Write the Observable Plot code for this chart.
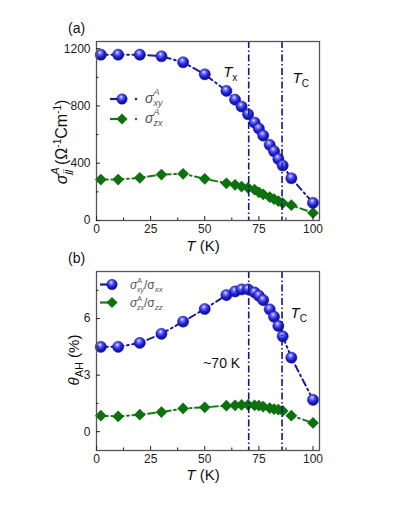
<!DOCTYPE html>
<html><head><meta charset="utf-8">
<script src="https://cdn.jsdelivr.net/npm/d3@7"></script>
<script src="https://cdn.jsdelivr.net/npm/@observablehq/plot@0.6"></script>
<style>
body{margin:0;background:#fff;}
#wrap{position:relative;width:396px;height:506px;font-family:"Liberation Sans",Arial,sans-serif;}
#wrap svg{position:absolute;left:0;overflow:visible}
</style></head><body><div id="wrap"></div>
<script>
// Temperatures (K)
const temps = [2,10,20,30,40,50,60,64,67,70,73,75,77,80,82,84,86,90,100];
// (a) anomalous Hall conductivity (Ω^-1 cm^-1)
const sigmaXY = [1158,1158,1158,1147,1105,1021,905,844,796,742,684,642,593,528,484,430,384,295,123];
const sigmaZX = [286,286,298,321,326,291,260,249,237,228,215,197,183,164,150,136,122,107,53];
// (b) anomalous Hall angle (%)
const thetaXY = [4.50,4.50,4.71,5.19,5.84,6.51,7.25,7.44,7.55,7.55,7.39,7.21,6.98,6.49,6.10,5.61,5.06,3.93,1.69];
const thetaZX = [0.85,0.81,0.90,1.04,1.23,1.29,1.38,1.40,1.42,1.42,1.40,1.38,1.33,1.25,1.20,1.17,1.10,0.85,0.46];
// transition temperatures
const Tx = 70.3, Tc = 85.7;
const xTicks = [0,25,50,75,100], xMinor = [12.5,37.5,62.5,87.5];
const yTicksA = [0,400,800,1200], yMinorA = [200,600,1000];
const yTicksB = [0,3,6], yMinorB = [1.5,4.5,7.5];

const BLUE_LINE = "#1a1a9c", GREEN = "#0d720d", GREEN_LINE = "#157a15", RULE = "#14148a";
const FONT = "'Liberation Sans', Arial, sans-serif";
const dash = "7,3.5,1.8,3.5";

function rows(ys){ return temps.map((t,i)=>({T:t, v:ys[i]})); }

function panel({ya, yb, yDomain, yTicks, yMinor, height, mt, mb, top}){
  const p = Plot.plot({
    width: 396, height, marginLeft: 96, marginRight: 77, marginTop: mt, marginBottom: mb,
    style: {fontFamily: FONT, fontSize: "12px", color: "#222", background: "transparent", overflow: "visible"},
    x: {domain: [0, 103]},
    y: {domain: yDomain},
    marks: [
      Plot.line(rows(ya), {x:"T", y:"v", stroke: BLUE_LINE, strokeWidth: 2, strokeDasharray: dash}),
      Plot.line(rows(yb), {x:"T", y:"v", stroke: GREEN_LINE, strokeWidth: 2, strokeDasharray: dash}),
      Plot.dot(rows(yb), {x:"T", y:"v", symbol:"diamond2", r:5.3, fill: GREEN, stroke:"none"}),
      Plot.dot(rows(ya), {x:"T", y:"v", r:5.6, fill:"url(#ballGrad)", stroke:"#10108a", strokeWidth:0.5}),
      Plot.ruleX([Tx, Tc], {stroke: RULE, strokeWidth: 1.6, strokeDasharray: "7,2.5,1.5,2.5"}),
      Plot.frame({stroke:"#555", strokeWidth:1.3}),
      Plot.axisX({ticks: xTicks, tickSize: -4, tickPadding: 8, tickFormat: d3.format("d"), label: null, fontSize: 12}),
      Plot.axisX({ticks: xMinor, tickSize: -2.5, tickFormat: () => "", label: null}),
      Plot.axisY({ticks: yTicks, tickSize: -4, tickPadding: 10, tickFormat: d3.format("d"), label: null, fontSize: 12}),
      Plot.axisY({ticks: yMinor, tickSize: -2.5, tickFormat: () => "", label: null})
    ]
  });
  p.style.top = top + "px";
  document.getElementById("wrap").appendChild(p);
  return p;
}

const pa = panel({ya: sigmaXY, yb: sigmaZX, yDomain:[0,1250], yTicks: yTicksA, yMinor: yMinorA, height: 250, mt: 41, mb: 30, top: 0});
const pb = panel({ya: thetaXY, yb: thetaZX, yDomain:[-1,8.5], yTicks: yTicksB, yMinor: yMinorB, height: 256, mt: 21, mb: 56, top: 250});

// gradient for spheres
const defs = d3.select(pa).insert("defs", ":first-child");
const g = defs.append("radialGradient").attr("id","ballGrad").attr("cx","0.42").attr("cy","0.36").attr("r","0.65").attr("fx","0.42").attr("fy","0.3");
g.append("stop").attr("offset","0").attr("stop-color","#ffffff");
g.append("stop").attr("offset","0.2").attr("stop-color","#7d7dff");
g.append("stop").attr("offset","0.6").attr("stop-color","#2020d8");
g.append("stop").attr("offset","1").attr("stop-color","#0c0c86");

function addText(svg, x, y, parts, opts={}){
  const t = d3.select(svg).append("text").attr("x", x).attr("y", y)
    .attr("font-family", FONT).attr("font-size", opts.size || 14).attr("fill", opts.fill || "#111")
    .attr("text-anchor", opts.anchor || "start");
  if (opts.rotate) t.attr("transform", `rotate(-90 ${x} ${y})`);
  for (const p of parts){
    const s = t.append("tspan").text(p.t);
    if (p.italic) s.attr("font-style","italic");
    if (p.size) s.attr("font-size", p.size);
    if (p.dx != null) s.attr("dx", p.dx);
    if (p.dy != null) s.attr("dy", p.dy);
  }
  return t;
}

// Panel labels
addText(pa, 68, 33, [{t:"(a)"}], {size:14});
addText(pb, 68, 13, [{t:"(b)"}], {size:14});

// Axis titles
addText(pa, 203, 251, [{t:"T", italic:true},{t:" (K)"}], {size:15, anchor:"middle"});
addText(pb, 203, 229.5, [{t:"T", italic:true},{t:" (K)"}], {size:15, anchor:"middle"});
addText(pa, 67, 142, [
  {t:"σ", italic:true},
  {t:"A", italic:true, size:11, dy:-8},
  {t:"jj", italic:true, size:11, dx:-7, dy:12},
  {t:" (Ω", dy:-4},
  {t:"-1", size:10, dy:-6},
  {t:"Cm", dy:6},
  {t:"-1", size:10, dy:-6},
  {t:")", dy:6}
], {size:16, anchor:"middle", rotate:true});
addText(pb, 79, 110, [
  {t:"θ", italic:true},
  {t:"AH", size:11, dy:4},
  {t:" (%)", dy:-4}
], {size:15, anchor:"middle", rotate:true});

// Annotations
const sxA = pa.scale("x"), sxB = pb.scale("x");
addText(pa, sxA.apply(Tx) - 25, 77, [{t:"T", italic:true},{t:"x", size:10, dy:4}], {size:15});
addText(pa, sxA.apply(Tc) + 11, 83, [{t:"T", italic:true},{t:"C", size:10, dy:4}], {size:15});
addText(pb, sxB.apply(Tc) + 9, 68, [{t:"T", italic:true},{t:"C", size:10, dy:4}], {size:15});
addText(pb, sxB.apply(Tx) - 45, 118, [{t:"~70 K"}], {size:14});

// Legends
function legendSym(svg, x0, y, kind){
  const s = d3.select(svg);
  const col = kind === "ball" ? BLUE_LINE : GREEN_LINE;
  s.append("line").attr("x1", x0).attr("x2", x0+12).attr("y1", y).attr("y2", y).attr("stroke", col).attr("stroke-width", 2.2);
  if (kind === "ball") s.append("circle").attr("cx", x0+12).attr("cy", y).attr("r", 5.2).attr("fill","url(#ballGrad)").attr("stroke","#10108a").attr("stroke-width",0.5);
  else s.append("path").attr("d", d3.symbol(d3.symbolDiamond2, Math.PI*5.0*5.0)()).attr("transform",`translate(${x0+12},${y})`).attr("fill", GREEN);
}
function lgA(y, sub, kind){
  legendSym(pa, 110, y, kind);
  d3.select(pa).append("circle").attr("cx",136).attr("cy",y).attr("r",1.2).attr("fill", kind==="ball"?BLUE_LINE:GREEN_LINE);
  addText(pa, 145, y+4, [{t:"σ", italic:true},{t:"A", italic:true, size:9, dy:-8},{t:sub, italic:true, size:9, dx:-6, dy:11}], {size:14, fill:"#555"});
}
lgA(99, "xy", "ball");
lgA(119, "zx", "diamond");
function lgB(y, sub, den, kind){
  legendSym(pb, 100, y, kind);
  addText(pb, 130, y+4, [{t:"σ", italic:true},{t:"A", size:7, dy:-6},{t:sub, italic:true, size:7, dx:-5, dy:9},{t:"/σ", dy:-3},{t:den, italic:true, size:8, dy:3}], {size:12, fill:"#555"});
}
lgB(34.5, "xy", "xx", "ball");
lgB(52.5, "zx", "zz", "diamond");
</script></body></html>
